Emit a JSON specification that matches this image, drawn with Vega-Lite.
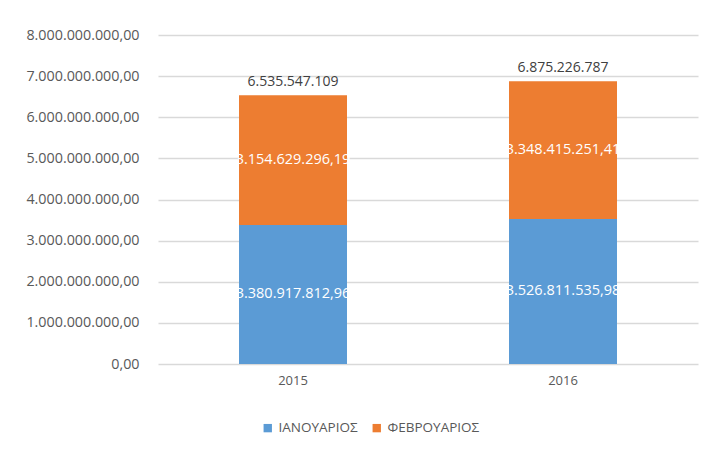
{
  "$schema": "https://vega.github.io/schema/vega-lite/v6.json",
  "width": 540,
  "height": 329,
  "autosize": {"type": "none"},
  "padding": {"left": 158, "top": 35, "right": 26, "bottom": 93},
  "background": "white",
  "config": {
    "locale": {"number": {"decimal": ",", "thousands": ".", "grouping": [3], "currency": ["", " €"]}},
    "view": {"stroke": null},
    "font": "Open Sans"
  },
  "data": {
    "values": [
      {"year": "2015", "month": "ΙΑΝΟΥΑΡΙΟΣ", "ord": 1, "value": 3380917812.96},
      {"year": "2015", "month": "ΦΕΒΡΟΥΑΡΙΟΣ", "ord": 2, "value": 3154629296.19},
      {"year": "2016", "month": "ΙΑΝΟΥΑΡΙΟΣ", "ord": 1, "value": 3526811535.98},
      {"year": "2016", "month": "ΦΕΒΡΟΥΑΡΙΟΣ", "ord": 2, "value": 3348415251.41}
    ]
  },
  "transform": [
    {"stack": "value", "groupby": ["year"], "sort": [{"field": "ord", "order": "ascending"}], "as": ["v0", "v1"]},
    {"calculate": "(datum.v0 + datum.v1) / 2", "as": "mid"}
  ],
  "encoding": {
    "x": {
      "field": "year", "type": "nominal", "title": null,
      "scale": {"paddingInner": 0.6, "paddingOuter": 0.3},
      "axis": {"labelAngle": 0, "labelColor": "#595959", "labelFontSize": 13, "labelPadding": 10, "ticks": false, "domain": false}
    }
  },
  "layer": [
    {
      "mark": {"type": "bar"},
      "encoding": {
        "y": {
          "field": "v0", "type": "quantitative", "title": null,
          "scale": {"domain": [0, 8000000000], "nice": false},
          "axis": {"values": [0, 1000000000, 2000000000, 3000000000, 4000000000, 5000000000, 6000000000, 7000000000, 8000000000],
                   "format": ",.2f", "labelColor": "#595959", "labelFontSize": 14.3, "labelPadding": 19,
                   "ticks": false, "domain": false, "gridColor": "#D9D9D9", "gridWidth": 1.3}
        },
        "y2": {"field": "v1"},
        "color": {
          "field": "month", "type": "nominal",
          "scale": {"domain": ["ΙΑΝΟΥΑΡΙΟΣ", "ΦΕΒΡΟΥΑΡΙΟΣ"], "range": ["#5B9BD5", "#ED7D31"]},
          "legend": {"title": null, "orient": "none", "direction": "horizontal", "legendX": 103, "legendY": 386,
                     "symbolType": "square", "symbolSize": 70, "symbolStrokeWidth": 0, "labelFontSize": 13.5, "labelColor": "#595959",
                     "columnPadding": 12, "labelOffset": 4}
        }
      }
    },
    {
      "mark": {"type": "text", "color": "white", "fontSize": 14.5, "align": "center", "baseline": "middle"},
      "encoding": {
        "y": {"field": "mid", "type": "quantitative"},
        "text": {"field": "value", "type": "quantitative", "format": ",.2f"}
      }
    },
    {
      "transform": [{"aggregate": [{"op": "sum", "field": "value", "as": "total"}], "groupby": ["year"]}],
      "mark": {"type": "text", "color": "#404040", "fontSize": 14, "align": "center", "baseline": "bottom", "dy": -6},
      "encoding": {
        "y": {"field": "total", "type": "quantitative"},
        "text": {"field": "total", "type": "quantitative", "format": ",.0f"}
      }
    }
  ]
}
